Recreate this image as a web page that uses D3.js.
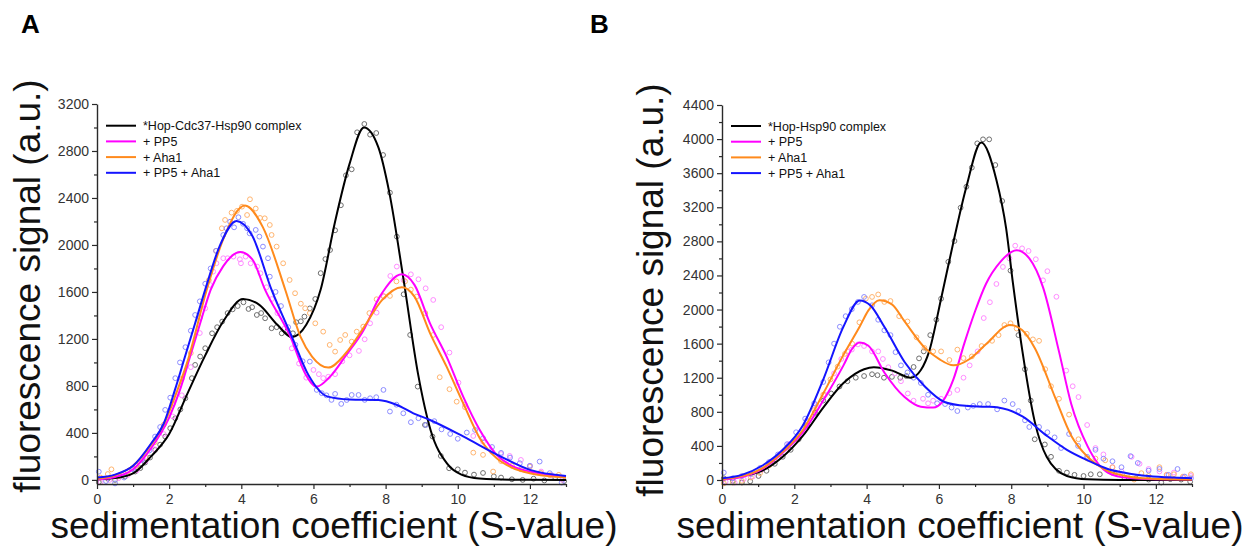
<!DOCTYPE html>
<html><head><meta charset="utf-8">
<script src="https://cdn.jsdelivr.net/npm/d3@7"></script>
<style>
body{margin:0;background:#fff}
svg{display:block}
text{font-family:Arial,"Liberation Sans",sans-serif}
</style>
</head><body>
<svg id="chart" width="1254" height="551"></svg>
<script>
// ---------- labels / ticks ----------
const panelLetters = ["A", "B"];
const legendA = ["*Hop-Cdc37-Hsp90 complex", "+ PP5", "+ Aha1", "+ PP5 + Aha1"];
const legendB = ["*Hop-Hsp90 complex", "+ PP5", "+ Aha1", "+ PP5 + Aha1"];
const xTicks = [0, 2, 4, 6, 8, 10, 12];
const xMinorTicks = [1, 3, 5, 7, 9, 11, 13];
const yTicksA = [0, 400, 800, 1200, 1600, 2000, 2400, 2800, 3200];
const yMinorA = [200, 600, 1000, 1400, 1800, 2200, 2600, 3000];
const yTicksB = [0, 400, 800, 1200, 1600, 2000, 2400, 2800, 3200, 3600, 4000, 4400];
const yMinorB = [200, 600, 1000, 1400, 1800, 2200, 2600, 3000, 3400, 3800, 4200];
const xTitle = "sedimentation coefficient (S-value)";
const yTitle = "fluorescence signal (a.u.)";

// ---------- Panel A fitted curves [S, signal] ----------
const fitA_complex = [[0,5],[0.5,15],[1,55],[1.5,200],[2,390],[2.5,730],[3,1060],[3.5,1350],[4.05,1540],[4.5,1490],[5,1320],[5.4,1215],[5.8,1320],[6.2,1620],[6.6,2200],[7,2690],[7.4,3000],[7.8,2830],[8.1,2450],[8.5,1700],[8.9,900],[9.25,420],[9.7,140],[10.1,45],[10.6,12],[11.5,2],[13,0]];
const fitA_pp5 = [[0,5],[0.5,25],[1,90],[1.5,270],[2,530],[2.3,766],[2.58,1050],[2.86,1333],[3.15,1617],[3.5,1820],[3.97,1940],[4.3,1880],[4.66,1617],[5.36,1220],[5.78,900],[6.09,794],[6.46,879],[6.9,1060],[7.38,1270],[7.84,1560],[8.45,1750],[8.8,1660],[9.23,1333],[9.69,1050],[10.15,709],[10.61,425],[11.08,213],[11.5,120],[12,71],[12.5,45],[13,28]];
const fitA_aha1 = [[0,10],[0.5,40],[1,120],[1.5,300],[1.85,470],[2.2,740],[2.5,1000],[3.04,1617],[3.5,2050],[4.1,2335],[4.6,2150],[5.22,1617],[5.64,1220],[5.96,1050],[6.41,956],[6.9,1080],[7.38,1290],[7.9,1530],[8.45,1640],[8.8,1560],[9.23,1250],[9.69,964],[10.15,653],[10.61,355],[11.08,184],[11.5,105],[12,57],[12.5,32],[13,20]];
const fitA_both = [[0,20],[0.5,45],[1,120],[1.5,310],[1.85,480],[2.16,766],[2.44,1050],[2.72,1333],[3,1620],[3.4,1990],[3.87,2205],[4.3,2080],[4.84,1617],[5.4,1220],[5.86,894],[6.4,709],[7,685],[7.8,680],[8.3,640],[8.77,567],[9.23,510],[10.15,370],[11.1,213],[12,85],[13,34]];

// ---------- Panel A measured points [S, signal] ----------
const ptsA_complex = [[0.05,-20],[0.3,10],[0.5,0],[0.78,28],[1.06,71],[1.2,100],[1.33,147],[1.47,190],[1.61,255],[1.75,300],[1.89,369],[2.03,440],[2.17,525],[2.31,600],[2.45,695],[2.63,866],[2.72,979],[2.86,1050],[3.0,1121],[3.19,1248],[3.33,1300],[3.47,1348],[3.62,1420],[3.76,1452],[3.9,1480],[4.06,1512],[4.2,1455],[4.3,1470],[4.43,1404],[4.55,1420],[4.66,1376],[4.84,1291],[4.98,1300],[5.12,1248],[5.28,1270],[5.43,1248],[5.52,1342],[5.65,1350],[5.75,1390],[5.9,1460],[6.05,1540],[6.2,1760],[6.33,1880],[6.46,1957],[6.6,2125],[6.76,2338],[6.9,2593],[7.06,2644],[7.21,2959],[7.41,3030],[7.57,2939],[7.74,2953],[7.93,2766],[8.12,2445],[8.31,2071],[8.5,1580],[8.68,1234],[8.89,794],[9.09,468],[9.3,369],[9.53,204],[9.76,99],[10.0,90],[10.2,62],[10.45,45],[10.7,59],[11.0,30],[11.2,20],[11.5,5],[11.8,0],[12.1,10],[12.4,-5],[12.7,20],[12.95,-10]];
const ptsA_pp5 = [[0.1,-20],[0.35,0],[0.6,15],[0.85,40],[1.1,80],[1.35,160],[1.6,260],[1.85,390],[2.1,540],[2.35,720],[2.6,960],[2.85,1250],[3.0,1460],[3.13,1660],[3.22,1773],[3.31,1844],[3.5,1887],[3.62,1887],[3.78,1901],[3.96,1878],[3.99,1844],[4.12,1901],[4.26,1844],[4.44,1816],[4.53,1759],[4.7,1640],[4.85,1540],[5.0,1420],[5.2,1290],[5.4,1120],[5.6,990],[5.8,870],[6.0,936],[6.15,900],[6.27,866],[6.41,878],[6.6,900],[6.8,1010],[7.0,1060],[7.26,1098],[7.42,1197],[7.57,1333],[7.75,1424],[7.95,1560],[8.13,1736],[8.31,1816],[8.5,1700],[8.7,1750],[8.91,1708],[9.11,1631],[9.32,1532],[9.54,1300],[9.77,1084],[10.02,828],[10.2,640],[10.43,374],[10.7,326],[10.95,240],[11.2,220],[11.44,204],[11.75,170],[12.0,120],[12.31,71],[12.6,40],[12.9,0]];
const ptsA_aha1 = [[0.1,20],[0.3,50],[0.4,90],[0.6,30],[0.85,70],[1.1,120],[1.35,190],[1.6,320],[1.85,470],[2.1,650],[2.35,860],[2.6,1080],[2.85,1380],[3.1,1700],[3.3,1950],[3.46,2142],[3.55,2213],[3.73,2275],[3.88,2290],[4.02,2326],[4.16,2255],[4.24,2389],[4.4,2310],[4.52,2230],[4.65,2227],[4.79,2170],[4.84,2085],[4.98,1986],[5.16,1844],[5.34,1702],[5.49,1589],[5.65,1500],[5.77,1461],[5.9,1420],[6.05,1333],[6.27,1262],[6.45,1149],[6.6,1092],[6.74,1191],[6.88,1234],[7.06,1177],[7.2,1262],[7.38,1305],[7.55,1420],[7.75,1538],[7.94,1566],[8.12,1566],[8.3,1690],[8.54,1690],[8.7,1620],[8.86,1560],[9.1,1420],[9.32,1234],[9.5,874],[9.77,772],[9.97,666],[10.2,619],[10.43,232],[10.7,213],[10.98,71],[11.2,160],[11.5,120],[11.75,90],[12.0,113],[12.3,60],[12.55,40],[12.8,43]];
const ptsA_both = [[0.05,70],[0.25,-10],[0.5,-30],[0.75,20],[1.0,90],[1.25,170],[1.45,250],[1.61,369],[1.75,450],[1.89,596],[2.03,700],[2.17,866],[2.3,1000],[2.45,1130],[2.6,1270],[2.72,1404],[2.85,1520],[3.0,1670],[3.15,1800],[3.3,1950],[3.5,2085],[3.59,2142],[3.69,2198],[3.8,2150],[3.92,2236],[4.05,2180],[4.16,2142],[4.23,2099],[4.4,2128],[4.5,2071],[4.6,1986],[4.74,1887],[4.79,1730],[4.95,1600],[5.1,1480],[5.3,1300],[5.5,1150],[5.7,1010],[5.9,1007],[6.09,766],[6.23,738],[6.36,720],[6.5,681],[6.6,732],[6.77,647],[6.92,680],[7.06,723],[7.25,723],[7.42,681],[7.57,695],[7.74,704],[7.94,766],[8.12,582],[8.3,640],[8.49,567],[8.7,491],[8.91,525],[9.12,468],[9.35,500],[9.55,430],[9.79,391],[10.0,350],[10.25,403],[10.48,425],[10.7,355],[10.95,280],[11.2,230],[11.45,190],[11.72,142],[12.0,120],[12.27,156],[12.55,57],[12.88,-23]];

// ---------- Panel B fitted curves [S, signal] ----------
const fitB_complex = [[0,10],[0.55,45],[1.12,110],[1.68,272],[2.24,520],[2.8,850],[3.36,1138],[3.93,1300],[4.2,1323],[4.71,1283],[5.22,1200],[5.5,1290],[5.73,1509],[6.06,2127],[6.4,2790],[6.76,3440],[7.17,3960],[7.59,3520],[7.86,2950],[8.05,2300],[8.31,1509],[8.65,685],[8.98,272],[9.54,47],[10.1,8],[11,0],[13,0]];
const fitB_pp5 = [[0,5],[0.55,35],[1.12,130],[1.68,320],[2.24,561],[2.8,932],[3.36,1345],[3.6,1540],[3.81,1612],[4.05,1575],[4.49,1262],[5.05,973],[5.5,860],[5.84,850],[6.1,920],[6.4,1180],[6.7,1600],[7.0,1980],[7.3,2300],[7.7,2560],[8.15,2695],[8.5,2600],[8.88,2260],[9.32,1509],[9.66,891],[10.11,397],[10.67,87],[11.2,25],[12,8],[13,5]];
const fitB_aha1 = [[0,10],[0.55,45],[1.12,140],[1.68,330],[2.24,590],[2.8,1015],[3.36,1468],[3.81,1800],[4.05,1990],[4.35,2110],[4.7,2060],[5.05,1860],[5.61,1550],[6.0,1420],[6.4,1345],[6.85,1420],[7.3,1592],[7.97,1818],[8.3,1760],[8.65,1550],[9.21,973],[9.66,520],[10.11,272],[10.67,108],[11.2,45],[11.8,17],[12.5,8],[13,5]];
const fitB_both = [[0,20],[0.55,60],[1.12,170],[1.68,354],[2.24,643],[2.8,1179],[3.36,1800],[3.81,2107],[4.1,2050],[4.49,1798],[5.05,1385],[5.61,1097],[6.17,912],[6.74,870],[7.3,860],[7.64,850],[8.31,746],[8.98,520],[9.54,354],[10.11,231],[10.67,129],[11.2,80],[11.8,47],[12.5,28],[13,20]];

// ---------- Panel B measured points [S, signal] ----------
const ptsB_complex = [[0.05,20],[0.3,-10],[0.55,-30],[0.78,-16],[1.01,47],[1.23,108],[1.46,190],[1.68,272],[1.9,354],[2.12,478],[2.35,643],[2.57,788],[2.8,932],[3.02,1015],[3.25,1097],[3.47,1159],[3.7,1200],[3.93,1220],[4.15,1241],[4.3,1230],[4.48,1200],[4.7,1210],[4.93,1200],[5.1,1220],[5.3,1326],[5.45,1427],[5.58,1509],[5.76,1700],[5.93,1880],[6.06,2127],[6.26,2560],[6.43,2804],[6.6,3195],[6.76,3441],[6.91,3665],[7.06,3950],[7.22,3997],[7.39,3997],[7.56,3696],[7.75,3273],[7.98,2457],[8.2,1700],[8.38,1300],[8.54,932],[8.65,478],[8.93,417],[9.1,272],[9.32,108],[9.54,87],[9.75,60],[10.0,47],[10.2,67],[10.45,67],[10.79,87],[11.13,27],[11.45,20],[11.8,5],[12.15,-30],[12.4,10],[12.7,5],[12.95,-20]];
const ptsB_pp5 = [[0.1,-20],[0.35,-30],[0.6,10],[0.85,40],[1.1,120],[1.35,200],[1.6,300],[1.85,420],[2.1,520],[2.35,700],[2.6,880],[2.85,1000],[3.1,1250],[3.3,1420],[3.47,1509],[3.59,1530],[3.76,1591],[3.93,1572],[4.15,1509],[4.32,1509],[4.45,1420],[4.6,1323],[4.78,1250],[4.95,1159],[5.14,1015],[5.3,930],[5.56,953],[5.7,900],[5.84,930],[6.06,953],[6.29,1020],[6.51,1056],[6.68,1200],[6.85,1345],[7.07,1509],[7.24,1900],[7.41,2086],[7.59,2300],[7.77,2500],[7.95,2600],[8.11,2749],[8.3,2718],[8.48,2687],[8.68,2590],[8.88,2343],[9.0,2450],[9.25,2150],[9.52,1283],[9.7,1100],[9.86,973],[10.1,645],[10.33,375],[10.55,300],[10.8,150],[11.05,100],[11.33,272],[11.55,190],[11.8,129],[12.1,100],[12.3,60],[12.5,87],[12.75,30],[12.97,47]];
const ptsB_aha1 = [[0.05,-40],[0.3,-30],[0.55,-10],[0.8,30],[1.05,80],[1.3,170],[1.55,260],[1.8,380],[2.05,480],[2.3,640],[2.55,820],[2.8,1000],[3.0,1180],[3.2,1330],[3.4,1480],[3.6,1600],[3.8,1850],[3.98,2128],[4.15,2148],[4.32,2177],[4.49,2089],[4.66,2100],[4.9,1922],[5.13,1860],[5.38,1674],[5.6,1550],[5.84,1509],[6.06,1509],[6.29,1408],[6.51,1530],[6.68,1430],[6.91,1450],[7.18,1572],[7.47,1633],[7.65,1700],[7.81,1818],[7.98,1839],[8.15,1777],[8.43,1715],[8.6,1650],[8.77,1633],[8.94,1300],[9.1,1100],[9.32,953],[9.6,767],[9.86,478],[10.1,252],[10.33,252],[10.6,231],[10.8,150],[10.95,67],[11.2,60],[11.4,5],[11.6,80],[11.8,47],[12.1,150],[12.3,60],[12.5,67],[12.75,40],[12.97,67]];
const ptsB_both = [[0.05,87],[0.3,20],[0.55,47],[0.8,70],[1.05,140],[1.3,210],[1.55,300],[1.8,420],[2.05,560],[2.3,720],[2.55,900],[2.8,1150],[2.95,1380],[3.1,1600],[3.26,1798],[3.42,1922],[3.59,2004],[3.76,2089],[3.93,2148],[4.15,2050],[4.32,1880],[4.49,1756],[4.66,1700],[4.8,1500],[4.95,1345],[5.13,1262],[5.3,1200],[5.5,1138],[5.7,1000],[5.95,900],[6.17,891],[6.35,850],[6.51,809],[6.8,850],[6.95,870],[7.13,891],[7.36,891],[7.61,829],[7.81,932],[8.04,891],[8.2,809],[8.38,700],[8.5,622],[8.77,622],[9.0,560],[9.2,500],[9.38,375],[9.6,540],[9.85,400],[10.1,272],[10.33,354],[10.55,250],[10.8,220],[11.05,150],[11.3,280],[11.5,200],[11.8,110],[12.1,129],[12.35,60],[12.6,129],[12.8,40],[12.97,20]];

// ---------- styles ----------
const lineColors = ["#000000", "#ff00ff", "#ff8a1c", "#1414ff"];
const dotColors = ["#6e6e6e", "#ff8cff", "#ffb46e", "#8c8cff"];

const svg = d3.select("#chart");

function drawPanel(cfg) {
  const g = svg.append("g");
  const x = d3.scaleLinear().domain([0, 13]).range([cfg.x0, cfg.x1]);
  const y = d3.scaleLinear().domain([cfg.yMin, cfg.yMax]).range([484, cfg.yTop]);

  // measured points
  cfg.points.forEach((pts, i) => {
    g.append("g").selectAll("circle").data(pts).join("circle")
      .attr("cx", d => x(d[0])).attr("cy", d => y(d[1])).attr("r", 2.4)
      .attr("fill", "none").attr("stroke", dotColors[i]).attr("stroke-width", 1);
  });

  // fitted curves
  const line = d3.line().x(d => x(d[0])).y(d => y(d[1])).curve(d3.curveMonotoneX);
  cfg.fits.forEach((f, i) => {
    g.append("path").datum(f).attr("d", line)
      .attr("fill", "none").attr("stroke", lineColors[i]).attr("stroke-width", 2);
  });

  // axes
  g.append("g").attr("transform", `translate(0,484)`)
    .call(d3.axisBottom(x).tickValues(xTicks).tickSize(5).tickSizeOuter(0).tickPadding(5).tickFormat(d3.format("d")));
  g.append("g").attr("transform", `translate(0,484)`)
    .call(d3.axisBottom(x).tickValues(xMinorTicks).tickSize(3).tickFormat("")).select(".domain").remove();
  g.append("g").attr("transform", `translate(${cfg.x0},0)`)
    .call(d3.axisLeft(y).tickValues(cfg.yTicks).tickSize(5).tickSizeOuter(0).tickPadding(3).tickFormat(d3.format("d")));
  g.append("g").attr("transform", `translate(${cfg.x0},0)`)
    .call(d3.axisLeft(y).tickValues(cfg.yMinor).tickSize(3).tickFormat("")).select(".domain").remove();
  g.selectAll(".domain").attr("stroke", "#2a2a2a").attr("stroke-width", 1.4);
  g.selectAll(".tick line").attr("stroke", "#2a2a2a").attr("stroke-width", 1.2);
  g.selectAll(".tick text").attr("fill", "#333").attr("font-size", "14px")
    .attr("font-family", "Arial, 'Liberation Sans', sans-serif");

  // legend
  const lg = g.append("g");
  cfg.legend.forEach((t, i) => {
    const yy = cfg.legY + i * 15.7;
    lg.append("line").attr("x1", cfg.legX).attr("x2", cfg.legX + 30).attr("y1", yy).attr("y2", yy)
      .attr("stroke", lineColors[i]).attr("stroke-width", 2);
    lg.append("text").attr("x", cfg.legX + 37).attr("y", yy + 4.5).attr("font-size", "12.5px")
      .attr("fill", "#111").text(t);
  });

  // titles
  g.append("text").attr("x", cfg.xTitleX).attr("y", 538).attr("text-anchor", "middle")
    .attr("font-size", "37px").attr("fill", "#111").text(xTitle);
  g.append("text").attr("transform", `translate(${cfg.yTitleX},${cfg.yTitleY}) rotate(-90)`)
    .attr("text-anchor", "middle").attr("font-size", "37px").attr("fill", "#111").text(yTitle);
  g.append("text").attr("x", cfg.letterX).attr("y", 33).attr("font-size", "26px")
    .attr("font-weight", "bold").attr("fill", "#000").text(cfg.letter);
}

drawPanel({
  x0: 97, x1: 566, yMin: -35, yMax: 3200, yTop: 104,
  yTicks: yTicksA, yMinor: yMinorA,
  fits: [fitA_complex, fitA_pp5, fitA_aha1, fitA_both],
  points: [ptsA_complex, ptsA_pp5, ptsA_aha1, ptsA_both],
  legend: legendA, legX: 106, legY: 125.7,
  xTitleX: 334, yTitleX: 40, yTitleY: 286, letterX: 21, letter: panelLetters[0]
});
drawPanel({
  x0: 722, x1: 1192, yMin: -47, yMax: 4400, yTop: 105,
  yTicks: yTicksB, yMinor: yMinorB,
  fits: [fitB_complex, fitB_pp5, fitB_aha1, fitB_both],
  points: [ptsB_complex, ptsB_pp5, ptsB_aha1, ptsB_both],
  legend: legendB, legX: 731, legY: 126,
  xTitleX: 960, yTitleX: 663, yTitleY: 290, letterX: 590, letter: panelLetters[1]
});
</script>
</body></html>
